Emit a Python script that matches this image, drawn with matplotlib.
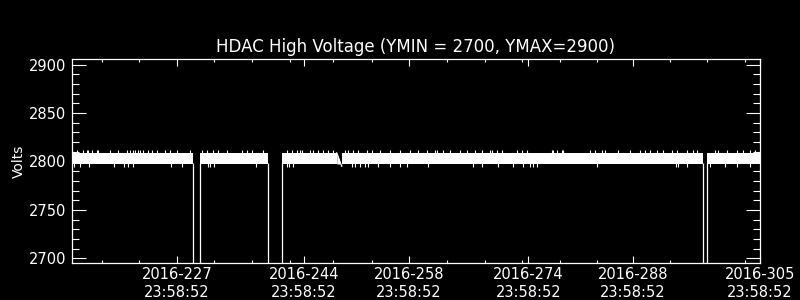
import matplotlib
matplotlib.use("Agg")
import matplotlib.pyplot as plt

# x in day-of-year 2016 (tick labels are at 23:58:52 of each day)
segments = [(212.95, 229.18), (230.08, 239.13), (241.05, 248.37),
            (249.04, 297.42), (297.95, 305.0)]
band_low = 2797.5
band_high = 2809.0

# short excursions above / below the band
up_days = [213.58, 214.46, 214.92, 215.13, 215.59, 216.25, 216.47, 218.03, 219.14,
           220.27, 220.71, 221.15, 221.38, 221.82, 222.05, 222.49, 223.16, 223.61,
           224.28, 225.39, 226.06, 226.96, 228.74, 230.30, 230.97, 231.86, 232.52,
           233.65, 235.66, 236.32, 236.99, 238.55, 241.68, 242.35, 243.01, 243.46,
           243.68, 244.79, 245.24, 245.91, 246.57, 247.24, 247.91, 249.48, 249.92,
           250.59, 251.26, 252.38, 253.05, 254.16, 255.50, 256.84, 258.17, 259.29,
           260.41, 261.52, 261.75, 262.63, 263.53, 264.86, 265.76, 266.87, 267.77,
           268.88, 269.11, 269.77, 270.44, 272.45, 273.12, 273.79, 277.13, 277.35,
           277.80, 278.47, 278.69, 282.26, 282.93, 283.82, 284.27, 286.05, 287.61,
           288.95, 289.62, 290.29, 291.18, 292.07, 293.19, 293.86, 295.20, 296.08,
           296.53, 298.98, 299.43, 300.55, 301.89, 302.77, 303.67, 304.34]
up_top = 2811.5
down_days = [213.18, 214.06, 215.18, 218.61, 219.95, 220.40, 221.11, 226.26, 227.73,
             231.19, 231.41, 231.95, 237.53, 241.68, 242.02, 242.52, 250.37, 250.82,
             251.48, 252.15, 252.59, 253.93, 255.50, 256.84, 257.73, 260.62, 266.64,
             267.77, 269.99, 272.00, 273.33, 274.23, 274.67, 275.13, 283.15, 293.72,
             294.07, 295.28, 298.35, 300.32, 301.97, 303.67]
down_bottom = 2794.0

# data drop-outs (values fall to 0)
drop_days = [229.18, 230.08, 239.13, 241.05, 297.42, 297.95]
ramp_days = [248.37, 249.04]
ramp_volts = [2809.0, 2795.0]

major_days = [227, 244, 258, 274, 288, 305]
major_labels = ["2016-227\n23:58:52", "2016-244\n23:58:52", "2016-258\n23:58:52",
                "2016-274\n23:58:52", "2016-288\n23:58:52", "2016-305\n23:58:52"]
minor_days = [216.96, 221.91, 231.95, 237.03, 242.12, 247.87, 253.09, 263.13,
              268.21, 273.16, 278.25, 283.2, 292.97, 297.9, 302.99]

fig = plt.figure(figsize=(8, 3), dpi=100, facecolor="black")
ax = fig.add_axes([0.09, 0.1233, 0.86, 0.679], facecolor="black")

for x0, x1 in segments:
    ax.fill_between([x0, x1], band_low, band_high, color="white", lw=0)
ax.fill_between(ramp_days, [band_low, band_low], ramp_volts, color="white", lw=0)
ax.plot(ramp_days, ramp_volts, color="white", lw=0.8)
ax.vlines(up_days, band_high - 0.5, up_top, color="white", lw=0.8)
ax.vlines(down_days, down_bottom, band_low + 0.5, color="white", lw=0.8)
ax.vlines(drop_days, 2600, band_low + 1, color="white", lw=0.9)

ax.set_xlim(212.95, 305.0)
ax.set_ylim(2695.1, 2905.6)
ax.set_xticks(major_days)
ax.set_xticklabels(major_labels)
ax.set_xticks(minor_days, minor=True)
ax.set_yticks([2700, 2750, 2800, 2850, 2900])
ax.set_yticks(range(2700, 2901, 10), minor=True)

for s in ax.spines.values():
    s.set_color("white")
    s.set_linewidth(0.9)
ax.tick_params(axis="both", which="both", colors="white", direction="in",
               top=True, right=True, width=0.8)
ax.tick_params(axis="y", which="major", length=10, pad=4, labelsize=10.5)
ax.tick_params(axis="y", which="minor", length=5)
ax.tick_params(axis="x", which="major", length=5, pad=3, labelsize=10.5)
ax.tick_params(axis="x", which="minor", length=2.5)

ax.set_ylabel("Volts", color="white", fontsize=10, labelpad=2)
ax.set_title("HDAC High Voltage (YMIN = 2700, YMAX=2900)", color="white",
             fontsize=12, pad=5)

fig.savefig("out.png", dpi=100, facecolor="black")
